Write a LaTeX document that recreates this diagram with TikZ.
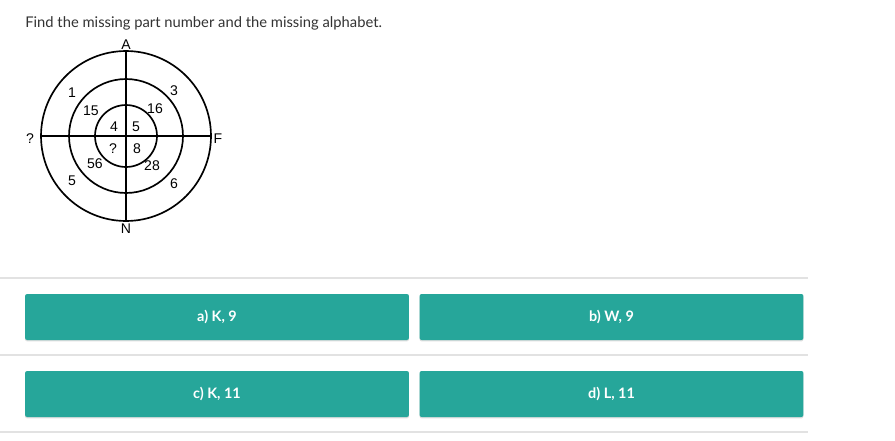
\documentclass[tikz,border=0pt]{standalone}
\usepackage{fontspec}
\setmainfont{Lato}
\newfontfamily\figfont{Liberation Sans}
\usetikzlibrary{shadows}
\definecolor{teal}{HTML}{26A69A}
\definecolor{rulegray}{HTML}{E2E2E2}
\definecolor{textgray}{HTML}{333333}
\begin{document}
\begin{tikzpicture}[x=0.02cm,y=-0.02cm]
    \tikzstyle{ring}=[circle,draw=black,line width=0.95pt,inner sep=0pt]
    \tikzstyle{lbl}=[inner sep=0pt,font=\figfont\fontsize{8pt}{9pt}\selectfont]
    \tikzstyle{option}=[rectangle,fill=teal,rounded corners=1.2pt,minimum width=7.68cm,minimum height=0.92cm,
        text=white,font=\bfseries\fontsize{8.2pt}{9pt}\selectfont,
        drop shadow={opacity=0.25,shadow xshift=0pt,shadow yshift=-0.8pt}]
    \useasboundingbox (0,0) rectangle (895,440);
    \fill[white] (0,0) rectangle (895,440);

    \node[anchor=base west,inner sep=0pt,text=textgray,font=\fontsize{8.4pt}{10pt}\selectfont] (title) at (25,27)
        {Find the missing part number and the missing alphabet.};

    % target
    \coordinate (C) at (126,136);
    \node[ring,minimum size=3.4cm] (ring-outer) at (C) {};
    \node[ring,minimum size=2.28cm] (ring-mid) at (C) {};
    \node[ring,minimum size=1.24cm] (ring-in) at (C) {};
    \draw[line width=0.95pt] (ring-outer.north) -- (ring-outer.south);
    \draw[line width=0.95pt] (ring-outer.west) -- (ring-outer.east);

    \foreach \name/\x/\y/\txt in {A/126/45/A, N/126/229/N, W/30/139/?, F/218/139/F,
            o1/72/93/1, o3/174/91/3, o5/72/181/5, o6/174/184/6,
            m15/91/111/15, m16/155/109/16, m56/95/164/56, m28/152/166/28,
            i4/114/127/4, i5/136/127/5, iq/113/149/?, i8/137/149/8}
        \node[lbl] (L-\name) at (\x,\y) {\txt};

    % answers
    \foreach \y in {278,355,432}
        \draw[rulegray,line width=0.6pt] (0,\y) -- (808,\y);
    \node[option] (opt-a) at (217,317) {a) K, 9};
    \node[option] (opt-b) at (611.5,317) {b) W, 9};
    \node[option] (opt-c) at (217,394) {c) K, 11};
    \node[option] (opt-d) at (611.5,394) {d) L, 11};
\end{tikzpicture}
\end{document}
